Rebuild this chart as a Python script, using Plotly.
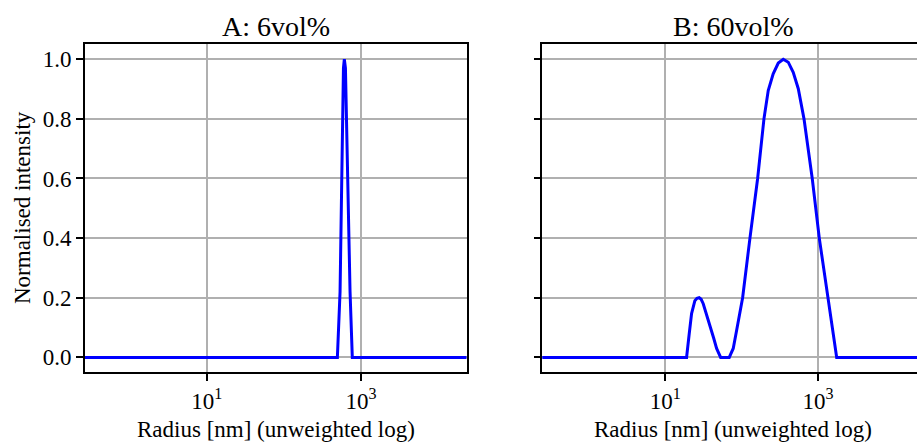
import plotly.graph_objects as go

# ---- data ----
radius_a = [0.1, 494, 535, 592, 608, 628, 721, 771, 100000]
intensity_a = [0.0, 0.0, 0.22, 0.97, 1.0, 0.97, 0.22, 0.0, 0.0]

radius_b = [0.1, 19.0, 20.6, 22.1, 24.4, 26.0, 27.8, 29.5, 31.4, 34.5, 38.4, 43.0, 47.0,
            53.1, 68.8, 77.6, 85.9, 103, 128.5, 162, 196, 223, 259, 302, 351,
            408, 474, 552, 656, 841, 1040, 1340, 1758, 100000]
intensity_b = [0.0, 0.0, 0.08, 0.147, 0.19, 0.198, 0.20, 0.195, 0.18, 0.147, 0.108, 0.065, 0.03,
               0.0, 0.0, 0.03, 0.09, 0.20, 0.40, 0.60, 0.80, 0.895, 0.951, 0.987, 1.0,
               0.99, 0.956, 0.901, 0.80, 0.60, 0.40, 0.20, 0.0, 0.0]

titles = ["A: 6vol%", "B: 60vol%"]
x_label = "Radius [nm] (unweighted log)"
y_label = "Normalised intensity"
x_tickvals = [10, 1000]
x_ticktext = ["10<sup>1</sup>", "10<sup>3</sup>"]
y_tickvals = [0.0, 0.2, 0.4, 0.6, 0.8, 1.0]
y_ticktext = ["0.0", "0.2", "0.4", "0.6", "0.8", "1.0"]

W, H = 917, 443
FONT = "Liberation Serif"

fig = go.Figure()
fig.add_trace(go.Scatter(x=radius_a, y=intensity_a, mode="lines",
                         line=dict(color="#0000ff", width=3), xaxis="x", yaxis="y",
                         showlegend=False, hoverinfo="skip"))
fig.add_trace(go.Scatter(x=radius_b, y=intensity_b, mode="lines",
                         line=dict(color="#0000ff", width=3), xaxis="x2", yaxis="y2",
                         showlegend=False, hoverinfo="skip"))

ydom = [(H - 372.3) / H, (H - 44.3) / H]
common_x = dict(type="log", showgrid=True, gridcolor="#b0b0b0", gridwidth=1.5,
                showline=True, linecolor="black", linewidth=1.6, mirror=True,
                ticks="outside", ticklen=7, tickwidth=1.5, tickcolor="black",
                tickvals=x_tickvals, ticktext=x_ticktext, zeroline=False,
                tickfont=dict(family=FONT, size=23, color="black"))
common_y = dict(range=[-0.05, 1.05], showgrid=True, gridcolor="#b0b0b0", gridwidth=1.5,
                showline=True, linecolor="black", linewidth=1.6,
                ticks="outside", ticklen=7, tickwidth=1.5, tickcolor="black",
                tickvals=y_tickvals, zeroline=False, domain=ydom,
                tickfont=dict(family=FONT, size=23, color="black"))

fig.update_layout(
    width=W, height=H, margin=dict(l=0, r=0, t=0, b=0),
    paper_bgcolor="white", plot_bgcolor="white",
    xaxis=dict(common_x, domain=[85 / W, 466.5 / W], range=[-0.577, 4.367], anchor="y"),
    yaxis=dict(common_y, anchor="x", mirror=True, ticktext=y_ticktext),
    xaxis2=dict(common_x, domain=[542.3 / W, 1.0], range=[-0.611, 4.297], anchor="y2"),
    yaxis2=dict(common_y, anchor="x2", mirror=False, showticklabels=False),
)

ann = []
for cx, t in [(275.7, titles[0]), (733, titles[1])]:
    ann.append(dict(text=t, x=cx / W, y=1 - 26 / H, xref="paper", yref="paper",
                    xanchor="center", yanchor="middle", showarrow=False,
                    font=dict(family=FONT, size=28, color="black")))
for cx in [275.7, 733]:
    ann.append(dict(text=x_label, x=cx / W, y=1 - 429 / H, xref="paper", yref="paper",
                    xanchor="center", yanchor="middle", showarrow=False,
                    font=dict(family=FONT, size=23, color="black")))
ann.append(dict(text=y_label, x=22 / W, y=1 - 208 / H, xref="paper", yref="paper",
                xanchor="center", yanchor="middle", showarrow=False, textangle=-90,
                font=dict(family=FONT, size=23, color="black")))
fig.update_layout(annotations=ann)

fig.write_html("out.html")
